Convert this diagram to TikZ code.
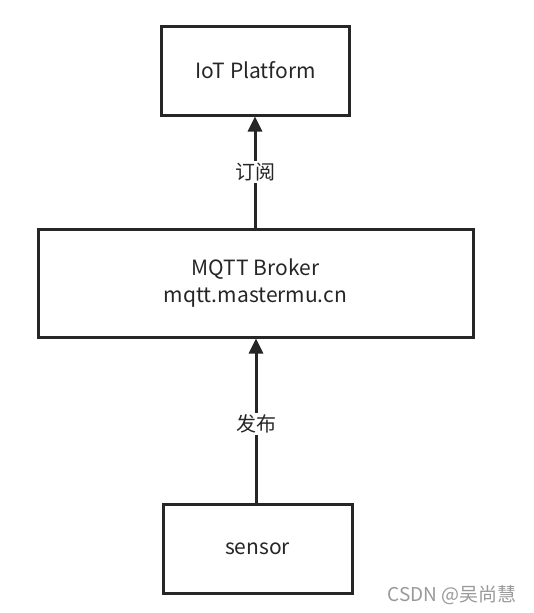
\documentclass[tikz,border=0pt]{standalone}
\usepackage{fontspec}
\setmainfont{Noto Sans CJK SC}
\usetikzlibrary{arrows.meta}
\begin{document}
\begin{tikzpicture}[x=1pt,y=-1pt,
  box/.style={draw=black!85,line width=3pt,fill=white,inner sep=0pt,font=\fontsize{21}{27}\selectfont,text=black!85},
  conn/.style={draw=black!85,line width=3pt,-{Triangle[length=15pt,width=14pt]}},
  lbl/.style={fill=white,inner sep=2pt,font=\fontsize{20}{24}\selectfont,text=black!85}]
\useasboundingbox (0,0) rectangle (533,613);
\fill[white] (0,0) rectangle (533,613);
\node[box,minimum width=188pt,minimum height=89pt] (iot) at (255.5,70.5) {IoT Platform};
\node[box,minimum width=435pt,minimum height=108pt,align=center] (broker) at (255.5,283) {MQTT Broker\\mqtt.mastermu.cn};
\node[box,minimum width=189pt,minimum height=89pt] (sensor) at (257.5,548.5) {sensor};
\draw[conn] (broker.north -| 255,0) -- (iot.south -| 255,0) node[lbl,pos=0.5] {订阅};
\draw[conn] (sensor.north -| 256,0) -- (broker.south -| 256,0) node[lbl,pos=0.48] {发布};
\node[anchor=east,text=black!40,font=\fontsize{19}{22}\selectfont,inner sep=0pt] (wm) at (517,595) {CSDN @吴尚慧};
\end{tikzpicture}
\end{document}
